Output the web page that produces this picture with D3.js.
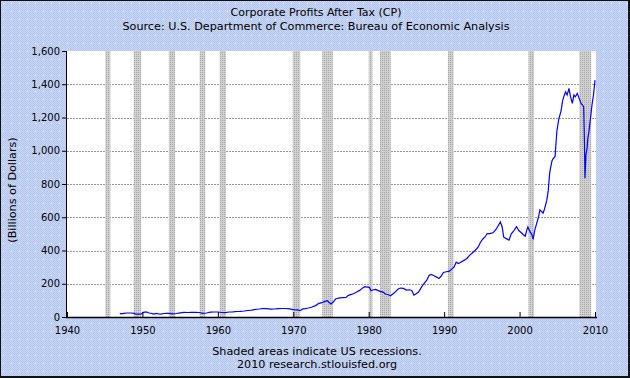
<!DOCTYPE html>
<html><head><meta charset="utf-8">
<script src="https://cdn.jsdelivr.net/npm/d3@7/dist/d3.min.js"></script>
<style>html,body{margin:0;padding:0;background:#fff}svg{display:block}</style>
</head><body><div id="chart"></div>
<script>
const titleText = "Corporate Profits After Tax (CP)";
const sourceText = "Source: U.S. Department of Commerce: Bureau of Economic Analysis";
const yAxisLabel = "(Billions of Dollars)";
const noteLines = ["Shaded areas indicate US recessions.", "2010 research.stlouisfed.org"];
const xTicks = [1940, 1950, 1960, 1970, 1980, 1990, 2000, 2010];
const yTicks = [0, 200, 400, 600, 800, 1000, 1200, 1400, 1600];

const recessionStart = [1945.08, 1948.83, 1953.5, 1957.58, 1960.25, 1969.92, 1973.83, 1980.0, 1981.5, 1990.5, 2001.17, 2007.92];
const recessionEnd   = [1945.75, 1949.83, 1954.33, 1958.33, 1961.08, 1970.92, 1975.25, 1980.5, 1982.92, 1991.25, 2001.92, 2009.5];

const years = [
 1947.0,1947.25,1947.5,1948.0,1948.5,1948.9,1949.1,1949.5,1949.9,1950.1,1950.5,1950.9,
 1951.2,1951.5,1951.8,1952.2,1952.5,1952.8,1953.2,1953.6,1954.0,1954.5,1955.0,1955.5,
 1956.0,1956.5,1957.0,1957.5,1958.0,1958.5,1959.0,1959.5,1960.0,1960.5,1961.0,1961.5,
 1962.0,1962.5,1963.0,1963.5,1964.0,1964.5,1965.0,1965.5,1966.0,1966.5,1967.0,1967.5,
 1968.0,1968.5,1969.0,1969.5,1970.0,1970.5,1970.9,1971.2,1971.6,1972.0,1972.5,1973.0,
 1973.4,1973.8,1974.2,1974.5,1974.8,1975.0,1975.3,1975.6,1976.0,1976.5,1977.0,1977.3,
 1977.7,1978.0,1978.4,1978.8,1979.2,1979.5,1979.8,1980.1,1980.3,1980.6,1980.9,1981.2,
 1981.5,1981.9,1982.2,1982.6,1982.9,1983.2,1983.5,1983.9,1984.2,1984.6,1985.0,1985.4,
 1985.7,1986.0,1986.3,1986.6,1987.0,1987.3,1987.7,1988.0,1988.3,1988.6,1989.0,1989.3,
 1989.6,1989.9,1990.3,1990.7,1991.0,1991.3,1991.6,1991.9,1992.3,1992.7,1993.0,1993.4,
 1993.8,1994.1,1994.5,1994.8,1995.1,1995.4,1995.7,1996.1,1996.5,1996.9,1997.2,1997.45,
 1997.7,1997.9,1998.3,1998.6,1998.9,1999.2,1999.6,1999.9,2000.2,2000.5,2000.75,2001.0,
 2001.1,2001.4,2001.6,2001.8,2002.0,2002.2,2002.5,2002.7,2003.0,2003.1,2003.3,2003.6,
 2003.8,2004.0,2004.3,2004.5,2004.7,2004.95,2005.2,2005.5,2005.7,2005.9,2006.1,2006.3,
 2006.55,2006.75,2007.0,2007.2,2007.4,2007.65,2007.9,2008.15,2008.35,2008.5,2008.6,2008.67,
 2008.8,2008.95,2009.05,2009.2,2009.4,2009.6,2009.8,2010.0
];
const profits = [
 22,19,22,24,24,22,17,17,18,28,31,24,
 22,18,22,18,17,21,22,22,19,21,25,28,
 27,28,28,27,22,24,29,30,30,27,26,30,
 31,33,34,36,39,41,46,48,51,50,47,48,
 50,51,51,49,44,43,38,47,50,54,60,70,
 82,86,94,98,86,78,90,108,114,116,118,130,
 136,140,150,160,175,182,180,178,158,164,166,160,
 154,150,138,134,128,138,150,168,174,172,162,164,
 160,132,140,150,180,200,222,250,256,250,240,232,
 245,268,272,276,288,300,330,322,332,342,352,372,
 388,400,420,448,468,480,502,502,508,528,552,572,
 540,480,470,462,500,516,544,520,508,495,486,530,
 542,510,500,467,520,553,600,644,630,624,648,700,
 760,870,940,955,964,1120,1190,1240,1300,1330,1355,1335,
 1375,1325,1285,1335,1325,1345,1315,1285,1275,1265,1055,834,
 975,1015,1075,1115,1195,1275,1335,1425
];

const W = 630, H = 378;
const FONT = "'DejaVu Sans', Verdana, sans-serif";
const svg = d3.select("#chart").append("svg").attr("width", W).attr("height", H)
  .attr("font-family", FONT);
const defs = svg.append("defs");

const chk = defs.append("pattern").attr("id","chk").attr("width",2).attr("height",2).attr("patternUnits","userSpaceOnUse");
chk.append("rect").attr("width",2).attr("height",2).attr("fill","#cad6f6");
chk.append("rect").attr("width",1).attr("height",1).attr("fill","#b4c6ee");
chk.append("rect").attr("x",1).attr("y",1).attr("width",1).attr("height",1).attr("fill","#b4c6ee");
const bg = defs.append("pattern").attr("id","bg").attr("width",8).attr("height",8).attr("patternUnits","userSpaceOnUse");
bg.append("rect").attr("width",8).attr("height",8).attr("fill","url(#chk)");
bg.append("rect").attr("x",3).attr("y",3).attr("width",1).attr("height",1).attr("fill","#d8ffff");

const rp = defs.append("pattern").attr("id","rec").attr("width",2).attr("height",2).attr("patternUnits","userSpaceOnUse");
rp.append("rect").attr("width",2).attr("height",2).attr("fill","#d0d0d0");
rp.append("rect").attr("width",1).attr("height",1).attr("fill","#a8a8a8");

svg.append("rect").attr("width",W).attr("height",H).attr("fill","url(#bg)");
svg.append("rect").attr("x",0.5).attr("y",0.5).attr("width",W-1).attr("height",H-1)
  .attr("fill","none").attr("stroke","#111").attr("stroke-width",1);
svg.append("line").attr("x1",628.5).attr("x2",628.5).attr("y1",0).attr("y2",H).attr("stroke","#111");
svg.append("line").attr("x1",0).attr("x2",W).attr("y1",376.5).attr("y2",376.5).attr("stroke","#111");

const pLeft = 67, pRight = 595, pTop = 51, pBottom = 317;
const x = d3.scaleLinear().domain([1940, 2010]).range([pLeft, pRight]);
const y = d3.scaleLinear().domain([0, 1600]).range([pBottom, pTop]);

svg.append("rect").attr("x",pLeft).attr("y",pTop).attr("width",pRight+1-pLeft).attr("height",pBottom-pTop).attr("fill","#fff");

svg.append("g").selectAll("line").data(yTicks.filter(d => d > 0 && d < 1600)).join("line")
  .attr("x1",pLeft).attr("x2",pRight+1).attr("y1",d => Math.round(y(d))+0.5).attr("y2",d => Math.round(y(d))+0.5)
  .attr("stroke","#9a9a9a").attr("stroke-dasharray","2,1");

svg.append("g").selectAll("rect").data(recessionStart.map((s,i)=>[s,recessionEnd[i]])).join("rect")
  .attr("x", d => x(d[0])).attr("width", d => x(d[1]) - x(d[0]))
  .attr("y", pTop).attr("height", pBottom - pTop).attr("fill","url(#rec)");

const pts = years.map((yr,i)=>[yr, profits[i]]);
svg.append("path").datum(pts)
  .attr("d", d3.line().x(d => x(d[0])).y(d => y(d[1])))
  .attr("fill","none").attr("stroke","#0000ff").attr("stroke-width",1.2).attr("stroke-linejoin","miter");

const xAxis = d3.axisBottom(x).tickValues(xTicks).tickFormat(d3.format("d")).tickSize(-5).tickPadding(10);
const gx = svg.append("g").attr("transform",`translate(0,${pBottom})`).call(xAxis);
gx.select(".domain").remove();
gx.selectAll(".tick line").attr("stroke","#000");
gx.selectAll("text").attr("font-size",10).attr("fill","#000").attr("font-family",FONT);

const yAxis = d3.axisLeft(y).tickValues(yTicks).tickFormat(d3.format(",")).tickSize(5).tickPadding(2);
const gy = svg.append("g").attr("transform",`translate(${pLeft},0)`).call(yAxis);
gy.select(".domain").remove();
gy.selectAll(".tick line").attr("stroke","#000");
gy.selectAll("text").attr("font-size",10).attr("fill","#000").attr("font-family",FONT);

svg.append("line").attr("x1",pLeft-0.5).attr("x2",pLeft-0.5).attr("y1",pTop).attr("y2",pBottom+1).attr("stroke","#000");
svg.append("line").attr("x1",pLeft-1).attr("x2",pRight+2).attr("y1",pBottom+0.5).attr("y2",pBottom+0.5).attr("stroke","#000").attr("stroke-width",1.5);

svg.append("text").attr("x",316).attr("y",16).attr("text-anchor","middle").attr("font-size",11).text(titleText);
svg.append("text").attr("x",316).attr("y",30).attr("text-anchor","middle").attr("font-size",11.2).text(sourceText);
svg.append("text").attr("transform","translate(16,190) rotate(-90)").attr("text-anchor","middle").attr("font-size",11.2).text(yAxisLabel);
svg.append("text").attr("x",317).attr("y",355).attr("text-anchor","middle").attr("font-size",11.2).text(noteLines[0]);
svg.append("text").attr("x",317).attr("y",368).attr("text-anchor","middle").attr("font-size",11.2).text(noteLines[1]);
</script></body></html>
